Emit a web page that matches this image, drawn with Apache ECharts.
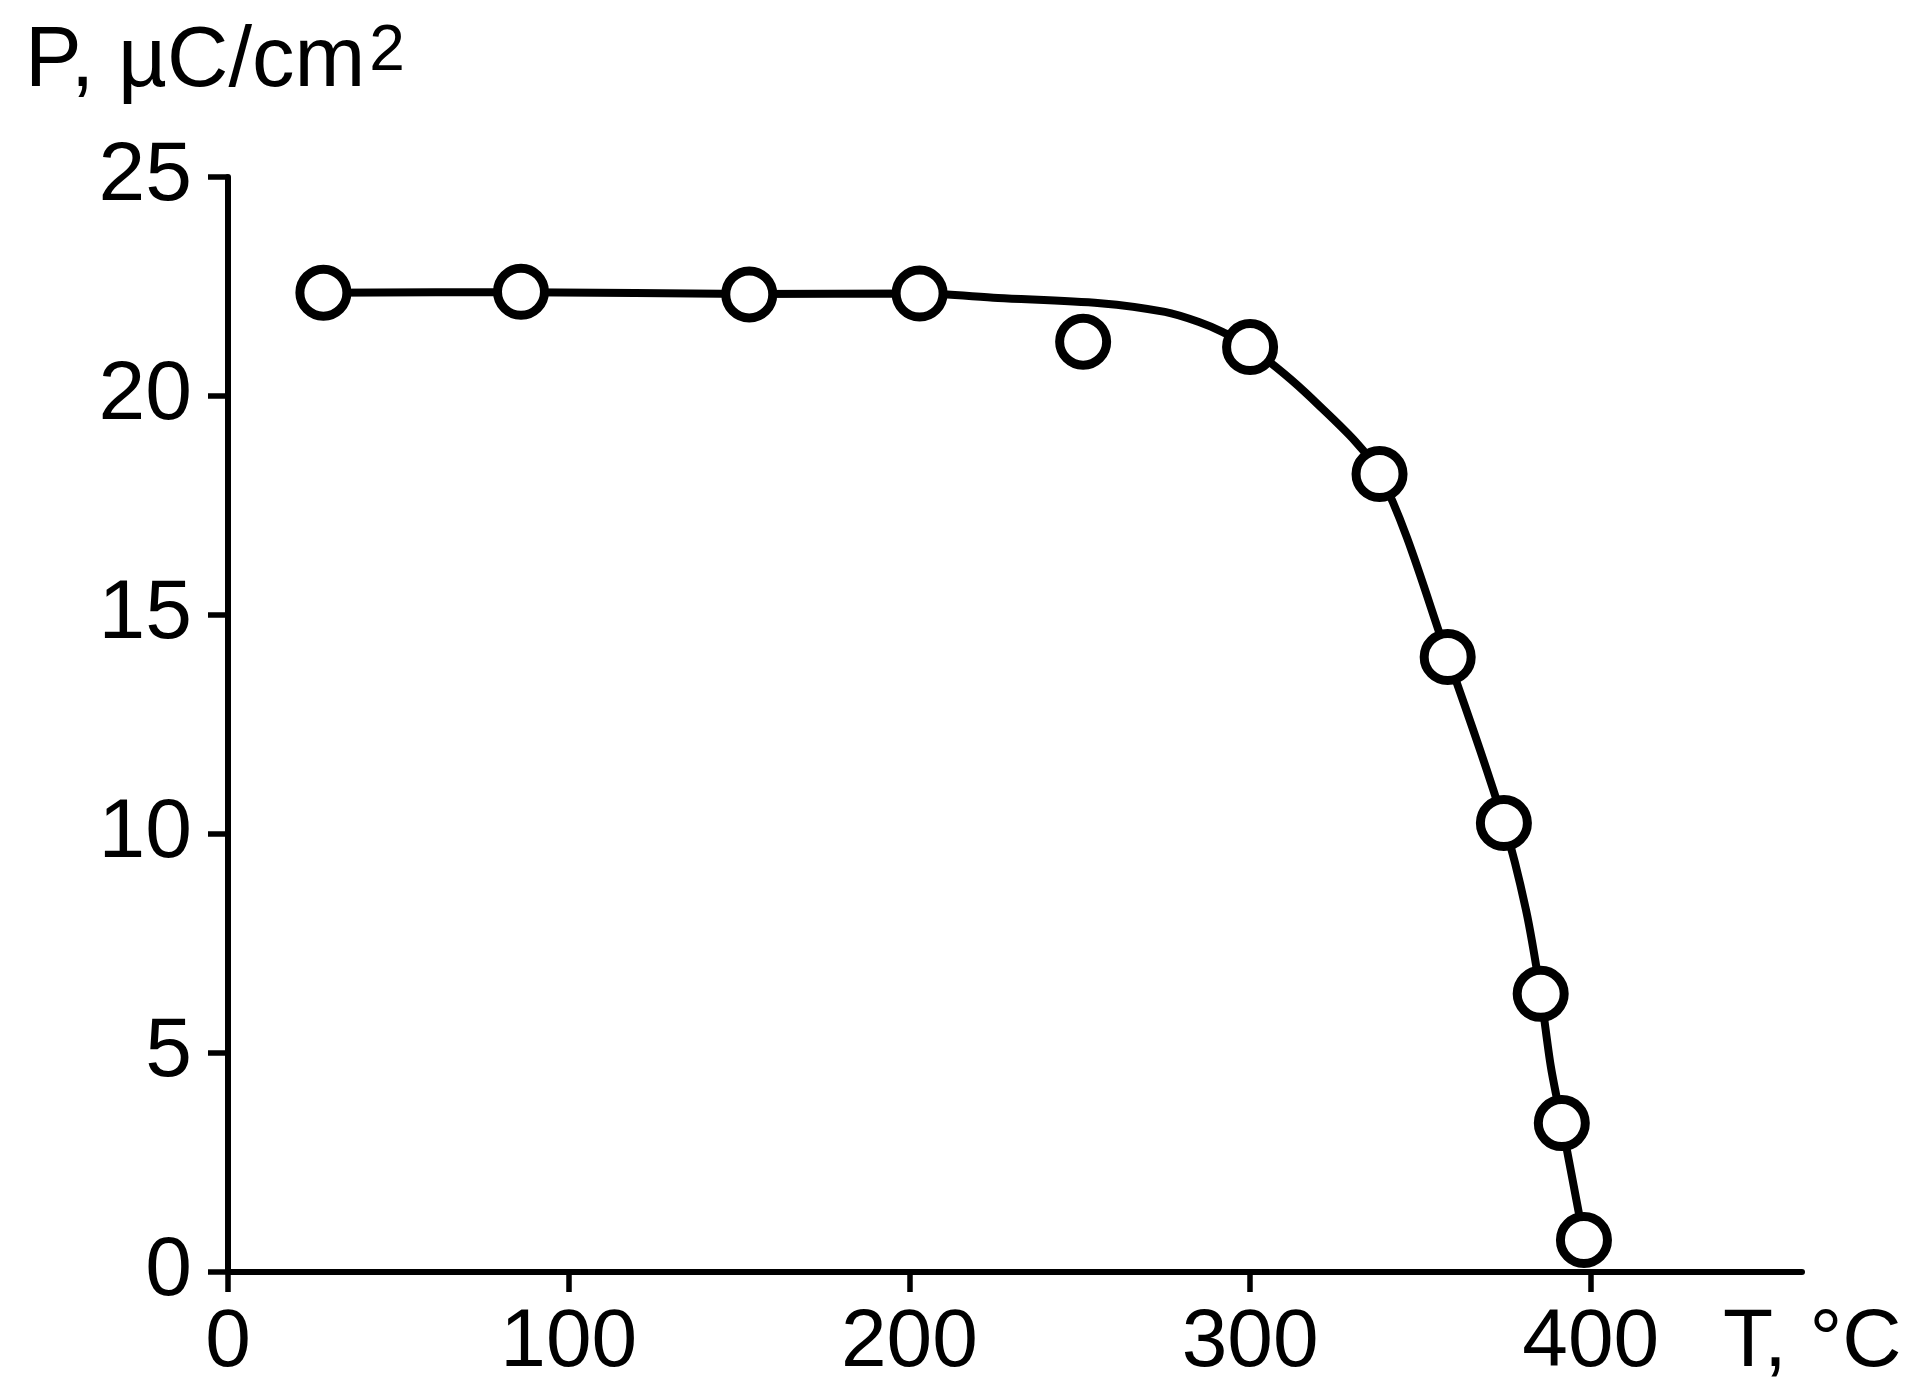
<!DOCTYPE html>
<html>
<head>
<meta charset="utf-8">
<script src="https://cdn.jsdelivr.net/npm/echarts@6/dist/echarts.min.js"></script>
<style>html,body{margin:0;padding:0;background:#fff;}#c{width:1912px;height:1397px;}</style>
</head>
<body>
<div id="c"></div>
<script>
// Measured points (T, °C ; P, µC/cm²)
const tempPoints = [28, 86, 153, 203, 251, 300, 338, 358, 374.5, 385.3, 391.5, 398];
const polPoints = [22.36, 22.38, 22.32, 22.34, 21.24, 21.12, 18.22, 14.04, 10.25, 6.35, 3.40, 0.73];
// Hand-drawn guide curve
const curveT = [28, 86, 153, 203, 226, 256, 275, 285, 292, 300, 318, 338, 358, 374.5, 381, 385.3, 388.3, 391.5, 398];
const curveP = [22.36, 22.37, 22.33, 22.34, 22.24, 22.12, 21.92, 21.69, 21.46, 21.12, 19.95, 18.22, 14.04, 10.25, 8.26, 6.35, 4.68, 3.40, 0.73];
const xTicks = [0, 100, 200, 300, 400];
const yTicks = [0, 5, 10, 15, 20, 25];

const FONT = 'Liberation Sans, Arial, sans-serif';
const chart = echarts.init(document.getElementById('c'), null, {renderer: 'canvas'});
chart.setOption({
  animation: false,
  backgroundColor: '#fff',
  grid: {left: 228, top: 177, right: 110, bottom: 125, containLabel: false},
  xAxis: {
    type: 'value', min: 0, max: 462, interval: 100,
    name: 'T, °C', nameLocation: 'end', nameGap: -79,
    nameTextStyle: {fontFamily: FONT, fontSize: 82, color: '#000', align: 'left', verticalAlign: 'top', padding: [30, 0, 0, 0]},
    axisLine: {show: true, onZero: false, lineStyle: {color: '#000', width: 6}},
    axisTick: {show: true, inside: false, length: 20, customValues: xTicks, lineStyle: {color: '#000', width: 5.5}},
    axisLabel: {fontFamily: FONT, fontSize: 82, color: '#000', margin: 30, customValues: xTicks},
    splitLine: {show: false}
  },
  yAxis: {
    type: 'value', min: 0, max: 25, interval: 5,
    name: '{a|P, µC/cm}{s|2}', nameLocation: 'end', nameGap: 72,
    nameTextStyle: {
      align: 'center', verticalAlign: 'bottom', padding: [0, 26, 0, 0],
      rich: {
        a: {fontFamily: FONT, fontSize: 85, color: '#000'},
        s: {fontFamily: FONT, fontSize: 64, lineHeight: 40, color: '#000', verticalAlign: 'top', padding: [0, 0, 0, 4]}
      }
    },
    axisLine: {show: true, onZero: false, lineStyle: {color: '#000', width: 6}},
    axisTick: {show: true, inside: false, length: 20, customValues: yTicks, lineStyle: {color: '#000', width: 5.5}},
    axisLabel: {fontFamily: FONT, fontSize: 84, color: '#000', margin: 36, customValues: yTicks},
    splitLine: {show: false}
  },
  series: [
    {
      type: 'line', name: 'curve',
      data: curveT.map((t, i) => [t, curveP[i]]),
      smooth: 0.3,
      showSymbol: false, symbol: 'none',
      lineStyle: {color: '#000', width: 8},
      z: 2
    },
    {
      type: 'scatter', name: 'P',
      data: tempPoints.map((t, i) => [t, polPoints[i]]),
      symbol: 'circle', symbolSize: 47,
      itemStyle: {color: '#fff', borderColor: '#000', borderWidth: 9, opacity: 1},
      z: 3
    }
  ]
});
</script>
</body>
</html>
